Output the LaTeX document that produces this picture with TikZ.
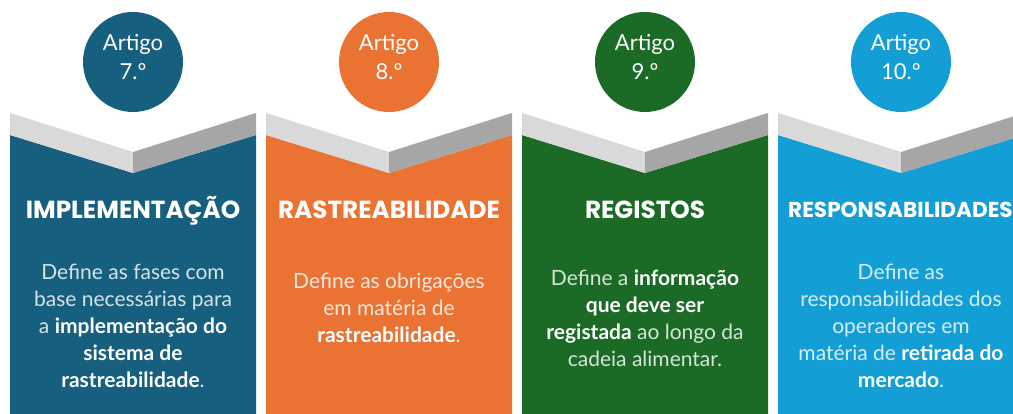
\documentclass[tikz,border=0pt]{standalone}
\usepackage{fontspec}
\setmainfont{Lato}
\newfontfamily\headfont{Poppins}

\definecolor{artblue}{HTML}{175F7F}
\definecolor{artorange}{HTML}{EA7333}
\definecolor{artgreen}{HTML}{1B6B27}
\definecolor{artsky}{HTML}{139FD6}
\definecolor{bandlight}{HTML}{D9D9D9}
\definecolor{banddark}{HTML}{A6A6A6}

% emphasised words in the body text
\newcommand{\keyword}[1]{{\bfseries\color{white}#1}}

\begin{document}
\begin{tikzpicture}[
    x=1pt, y=1pt,
    font=\fontsize{21}{27}\selectfont
]

    % Styles
    \tikzset{
        artcircle/.style={
            circle,
            minimum size=100pt,
            inner sep=0pt
        },
        circletext/.style={
            align=center,
            text=white,
            inner sep=0pt,
            font=\fontsize{22}{29}\selectfont
        },
        headline/.style={
            text=white,
            inner sep=0pt,
            anchor=base,
            font=\headfont\bfseries\fontsize{24.7}{28}\selectfont
        },
        bodytext/.style={
            align=center,
            inner sep=0pt,
            font=\fontsize{21}{27}\selectfont
        },
        bandleft/.style={fill=bandlight},
        bandright/.style={fill=banddark}
    }

    \useasboundingbox (0,0) rectangle (1013,414);
    \clip (0,0) rectangle (1013,414);

    % Column 1 (Artigo 7.o)
    \fill[artblue] (10,279) -- (133,241) -- (256,279) -- (256,0) -- (10,0) -- cycle;
    \fill[bandleft] (10,301) -- (133,262) -- (133,241) -- (10,279) -- cycle;
    \fill[bandright] (133,262) -- (256,301) -- (256,279) -- (133,241) -- cycle;
    \node[artcircle, fill=artblue] (art7) at (133,352) {};
    \node[circletext] (art7txt) at (133,356.5) {Artigo\\7.º};
    \node[headline] (head7) at (133,195) {IMPLEMENTAÇÃO};
    \node[bodytext, text=white!82!artblue] (body7) at (133,88)
        {Define as fases com\\base necessárias para\\a \keyword{implementação do}\\\keyword{sistema de}\\\keyword{rastreabilidade}.};

    % Column 2 (Artigo 8.o)
    \fill[artorange] (266,279) -- (389,241) -- (512,279) -- (512,0) -- (266,0) -- cycle;
    \fill[bandleft] (266,301) -- (389,262) -- (389,241) -- (266,279) -- cycle;
    \fill[bandright] (389,262) -- (512,301) -- (512,279) -- (389,241) -- cycle;
    \node[artcircle, fill=artorange] (art8) at (389,352) {};
    \node[circletext] (art8txt) at (389,356.5) {Artigo\\8.º};
    \node[headline] (head8) at (389,195) {RASTREABILIDADE};
    \node[bodytext, text=white!82!artorange] (body8) at (389,106)
        {Define as obrigações\\em matéria de\\\keyword{rastreabilidade}.};

    % Column 3 (Artigo 9.o)
    \fill[artgreen] (522,279) -- (645,241) -- (768,279) -- (768,0) -- (522,0) -- cycle;
    \fill[bandleft] (522,301) -- (645,262) -- (645,241) -- (522,279) -- cycle;
    \fill[bandright] (645,262) -- (768,301) -- (768,279) -- (645,241) -- cycle;
    \node[artcircle, fill=artgreen] (art9) at (645,352) {};
    \node[circletext] (art9txt) at (645,356.5) {Artigo\\9.º};
    \node[headline] (head9) at (645,195) {REGISTOS};
    \node[bodytext, text=white!82!artgreen] (body9) at (645,95.5)
        {Define a \keyword{informação}\\\keyword{que deve ser}\\\keyword{registada} ao longo da\\cadeia alimentar.};

    % Column 4 (Artigo 10.o), cut at the right edge
    \fill[artsky] (778,279) -- (901,241) -- (1024,279) -- (1024,0) -- (778,0) -- cycle;
    \fill[bandleft] (778,301) -- (901,262) -- (901,241) -- (778,279) -- cycle;
    \fill[bandright] (901,262) -- (1024,301) -- (1024,279) -- (901,241) -- cycle;
    \node[artcircle, fill=artsky] (art10) at (901,352) {};
    \node[circletext] (art10txt) at (901,356.5) {Artigo\\10.º};
    \node[headline, anchor=base west, font=\headfont\bfseries\fontsize{21.6}{26}\selectfont]
        (head10) at (788,196) {RESPONSABILIDADES};
    \node[bodytext, text=white!82!artsky] (body10) at (901,88.5)
        {Define as\\responsabilidades dos\\operadores em\\matéria de \keyword{retirada do}\\\keyword{mercado}.};

\end{tikzpicture}
\end{document}
